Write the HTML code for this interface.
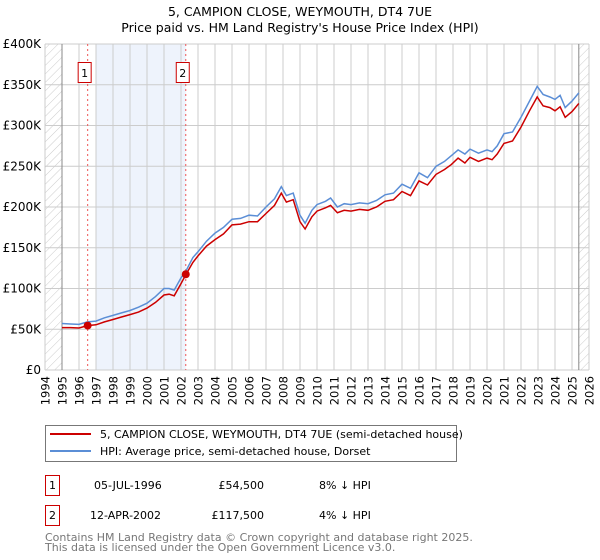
<!DOCTYPE html>
<html><head><meta charset="utf-8"><style>
body{margin:0;background:#fff;}
svg{display:block;font-family:"DejaVu Sans","Liberation Sans",sans-serif;}
</style></head><body>
<svg id="c" width="600" height="560" viewBox="0 0 600 560">
<defs><pattern id="hatch" width="6" height="6" patternUnits="userSpaceOnUse" patternTransform="rotate(45)"><line x1="0" y1="0" x2="0" y2="6" stroke="#ccc" stroke-width="1"/></pattern></defs>
<text x="300" y="16" text-anchor="middle" font-size="12.5" fill="#000">5, CAMPION CLOSE, WEYMOUTH, DT4 7UE</text>
<text x="300" y="32" text-anchor="middle" font-size="12.5" fill="#000">Price paid vs. HM Land Registry's House Price Index (HPI)</text>
<g id="plot"></g>
<g>
<rect x="45.5" y="425.5" width="411" height="36" fill="#fff" stroke="#777"/>
<line x1="50" y1="434" x2="91" y2="434" stroke="#cc0000" stroke-width="2"/>
<text x="100" y="438" font-size="11">5, CAMPION CLOSE, WEYMOUTH, DT4 7UE (semi-detached house)</text>
<line x1="50" y1="451" x2="91" y2="451" stroke="#5b8ed6" stroke-width="2"/>
<text x="100" y="455" font-size="11">HPI: Average price, semi-detached house, Dorset</text>
</g>
<g font-size="11">
<rect x="45.5" y="475.5" width="14" height="20" fill="#fff" stroke="#cc0000"/>
<text x="52.5" y="489" text-anchor="middle">1</text>
<text x="94" y="489">05-JUL-1996</text>
<text x="264" y="489" text-anchor="end">£54,500</text>
<text x="319" y="489">8% ↓ HPI</text>
<rect x="45.5" y="505.5" width="14" height="20" fill="#fff" stroke="#cc0000"/>
<text x="52.5" y="519" text-anchor="middle">2</text>
<text x="90" y="519">12-APR-2002</text>
<text x="264" y="519" text-anchor="end">£117,500</text>
<text x="319" y="519">4% ↓ HPI</text>
</g>
<text x="45" y="541" font-size="11" fill="#777">Contains HM Land Registry data © Crown copyright and database right 2025.</text>
<text x="45" y="551" font-size="11" fill="#777">This data is licensed under the Open Government Licence v3.0.</text>
</svg>
<script>
const hpiYears=[1995,1995.5,1996,1996.5,1997,1997.5,1998,1998.5,1999,1999.5,2000,2000.5,2001,2001.3,2001.6,2002,2002.3,2002.7,2003,2003.5,2004,2004.5,2005,2005.5,2006,2006.5,2007,2007.5,2007.9,2008.2,2008.6,2009,2009.3,2009.7,2010,2010.5,2010.8,2011.2,2011.6,2012,2012.5,2013,2013.5,2014,2014.5,2015,2015.5,2016,2016.5,2017,2017.5,2017.9,2018.3,2018.7,2019,2019.5,2020,2020.3,2020.6,2021,2021.5,2022,2022.5,2022.95,2023.3,2023.7,2024,2024.3,2024.6,2025,2025.4];
const hpiValues=[57,56.5,56,59,60,64,67,70,73,77,82,90,100,100,98,113,122,138,145,158,168,175,185,186,190,189,200,210,225,214,217,190,180,196,203,207,211,200,204,203,205,204,208,215,217,228,223,242,236,250,256,263,270,265,271,266,270,268,275,290,292,310,330,348,338,335,332,337,322,330,340];
const ppYears=[1995,1995.5,1996,1996.5,1997,1997.5,1998,1998.5,1999,1999.5,2000,2000.5,2001,2001.3,2001.6,2002,2002.3,2002.7,2003,2003.5,2004,2004.5,2005,2005.5,2006,2006.5,2007,2007.5,2007.9,2008.2,2008.6,2009,2009.3,2009.7,2010,2010.5,2010.8,2011.2,2011.6,2012,2012.5,2013,2013.5,2014,2014.5,2015,2015.5,2016,2016.5,2017,2017.5,2017.9,2018.3,2018.7,2019,2019.5,2020,2020.3,2020.6,2021,2021.5,2022,2022.5,2022.95,2023.3,2023.7,2024,2024.3,2024.6,2025,2025.4];
const ppValues=[52,52,51.5,54.5,55.5,59,62,65,68,71,76,83,92,93,91,106,117.5,132,140,152,160,167,178,179,182,182,192,202,217,206,209,182,173,188,195,199,202,193,196,195,197,196,200,207,209,219,214,232,227,240,246,252,260,254,261,256,260,258,265,278,281,298,318,335,324,322,318,323,310,317,327];
const saleYears=[1996.51,2002.28];
const salePrices=[54.5,117.5];
const saleLabels=["1","2"];
const yTicks=[0,50,100,150,200,250,300,350,400];
const yTickLabels=["£0","£50K","£100K","£150K","£200K","£250K","£300K","£350K","£400K"];
const xTicks=[1994,1995,1996,1997,1998,1999,2000,2001,2002,2003,2004,2005,2006,2007,2008,2009,2010,2011,2012,2013,2014,2015,2016,2017,2018,2019,2020,2021,2022,2023,2024,2025,2026];

const X0=45,X1=589,Y0=370,Y1=44;
const x=y=>X0+(y-1994)*(X1-X0)/32;
const yv=v=>Y0-v*(Y0-Y1)/400;
const NS="http://www.w3.org/2000/svg";
const g=document.getElementById('plot');
function mk(tag,attrs,parent){const e=document.createElementNS(NS,tag);for(const k in attrs)e.setAttribute(k,attrs[k]);(parent||g).appendChild(e);return e;}

let e;
e=mk('rect',{x:x(1997),y:Y1,width:x(2002.28)-x(1997),height:Y0-Y1,fill:'#eef3fc'});


xTicks.forEach(t=>{
  e=mk('line',{x1:x(t),x2:x(t),y1:Y1,y2:Y0,stroke:'#ccc','stroke-width':1});
  
  
  const tx=x(t)+4.5, ty=Y0+6;
  e=mk('text',{x:tx,y:ty,'text-anchor':'end','font-size':11.5,transform:'rotate(-90 '+tx+' '+ty+')'});
  e.textContent=t;
  
  
});
yTicks.forEach((t,i)=>{
  e=mk('line',{x1:X0,x2:X1,y1:yv(t),y2:yv(t),stroke:'#ccc','stroke-width':1});
  
  
  e=mk('text',{x:X0-4,y:yv(t)+4,'text-anchor':'end','font-size':12});
  e.textContent=yTickLabels[i];
  
  
});
e=mk('rect',{x:X0,y:Y1,width:x(1995)-X0,height:Y0-Y1,fill:'url(#hatch)'});


e=mk('rect',{x:x(2025.4),y:Y1,width:X1-x(2025.4),height:Y0-Y1,fill:'url(#hatch)'});


e=mk('line',{x1:x(1995),x2:x(1995),y1:Y1,y2:Y0,stroke:'#888'});


e=mk('line',{x1:x(2025.4),x2:x(2025.4),y1:Y1,y2:Y0,stroke:'#888'});


saleYears.forEach((s,i)=>{
  e=mk('line',{x1:x(s),x2:x(s),y1:Y1,y2:Y0,stroke:'#ee5555','stroke-dasharray':'2,3'});
  
  
});
e=mk('path',{d:hpiYears.map((t,i)=>(i?'L':'M')+x(t).toFixed(1)+','+yv(hpiValues[i]).toFixed(1)).join(''),fill:'none',stroke:'#5b8ed6','stroke-width':1.5});


e=mk('path',{d:ppYears.map((t,i)=>(i?'L':'M')+x(t).toFixed(1)+','+yv(ppValues[i]).toFixed(1)).join(''),fill:'none',stroke:'#cc0000','stroke-width':1.5});


saleYears.forEach((s,i)=>{
  e=mk('circle',{cx:x(s),cy:yv(salePrices[i]),r:4,fill:'#cc0000'});
  
  
  const bx=x(s)-10;
  e=mk('rect',{x:bx+0.5,y:62.5,width:13,height:20,fill:'#fff',stroke:'#cc0000'});
  
  
  e=mk('text',{x:bx+7,y:77,'text-anchor':'middle','font-size':11});
  e.textContent=saleLabels[i];
  
  
});
</script>
</body></html>
